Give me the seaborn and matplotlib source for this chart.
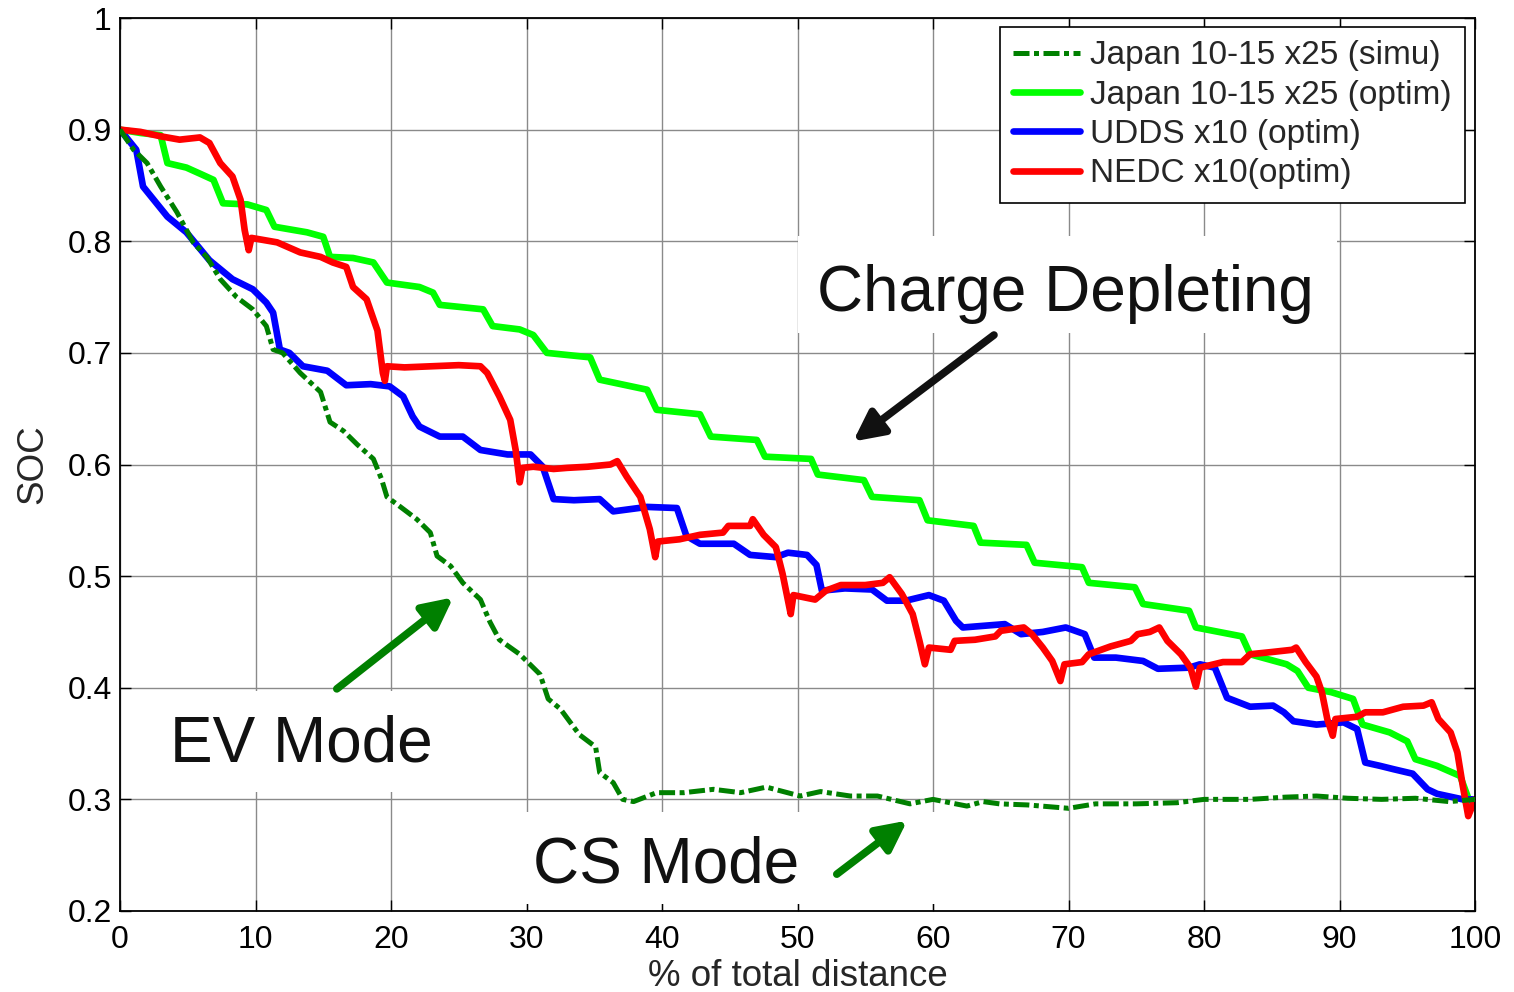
import matplotlib
matplotlib.use("Agg")
import matplotlib.pyplot as plt
from matplotlib.patches import Rectangle
import seaborn as sns
import pandas as pd

# ---- SOC trajectories versus % of total distance ----
simu_x = [0, 1.0, 2.0, 3.0, 4.2, 5.4, 6.4, 7.4, 8.6, 9.8, 10.8, 11.3, 12.0, 13.3, 14.8, 15.5,
          16.5, 17.5, 18.7, 19.3, 19.7, 20.7, 21.9, 22.9, 23.4, 24.4, 25.3, 26.6, 27.3, 28.0,
          29.5, 31.0, 31.6, 32.5, 33.9, 35.1, 35.4, 36.4, 37.1, 37.9, 39.6, 41.6, 43.8, 45.8,
          47.7, 50.2, 51.7, 53.9, 55.9, 58.3, 60.0, 62.5, 63.7, 64.9, 67.0, 70.0, 72.0, 75.0,
          78.0, 80.0, 83.4, 86.0, 88.3, 90.6, 93.1, 95.6, 98.1, 100]
simu_soc = [0.900, 0.882, 0.870, 0.849, 0.826, 0.799, 0.786, 0.766, 0.750, 0.739, 0.724, 0.703,
            0.700, 0.682, 0.665, 0.638, 0.630, 0.618, 0.605, 0.587, 0.571, 0.562, 0.551, 0.539,
            0.518, 0.509, 0.494, 0.479, 0.459, 0.443, 0.430, 0.412, 0.390, 0.381, 0.358, 0.347,
            0.324, 0.315, 0.300, 0.298, 0.306, 0.306, 0.309, 0.306, 0.311, 0.303, 0.307, 0.303,
            0.303, 0.296, 0.300, 0.294, 0.298, 0.296, 0.295, 0.292, 0.296, 0.296, 0.297, 0.300,
            0.300, 0.302, 0.303, 0.301, 0.300, 0.301, 0.298, 0.300]

japan_x = [0, 1.5, 3.0, 3.5, 4.9, 6.0, 6.9, 7.6, 9.4, 10.8, 11.4, 13.8, 15.0, 15.5, 17.2, 18.7,
           19.7, 22.1, 23.1, 23.6, 26.8, 27.5, 29.5, 30.5, 31.5, 34.7, 35.4, 38.9, 39.6, 42.8,
           43.6, 47.0, 47.6, 51.0, 51.5, 54.9, 55.5, 59.0, 59.6, 63.0, 63.5, 66.9, 67.5, 71.0,
           71.5, 74.9, 75.5, 78.9, 79.4, 82.8, 83.4, 86.1, 86.9, 87.7, 89.4, 91.0, 91.7, 93.7,
           95.0, 95.6, 97.2, 98.9, 99.6, 100]
japan_soc = [0.900, 0.897, 0.895, 0.870, 0.866, 0.860, 0.855, 0.834, 0.833, 0.828, 0.813, 0.808,
             0.804, 0.786, 0.785, 0.781, 0.763, 0.759, 0.754, 0.743, 0.739, 0.724, 0.721, 0.716,
             0.700, 0.696, 0.676, 0.667, 0.649, 0.645, 0.625, 0.622, 0.607, 0.605, 0.591, 0.586,
             0.571, 0.568, 0.550, 0.545, 0.530, 0.528, 0.512, 0.508, 0.494, 0.490, 0.475, 0.469,
             0.454, 0.446, 0.430, 0.421, 0.415, 0.400, 0.396, 0.390, 0.367, 0.360, 0.352, 0.336,
             0.330, 0.321, 0.298, 0.300]

udds_x = [0, 1.2, 1.7, 2.5, 3.5, 4.9, 6.6, 8.3, 9.8, 10.8, 11.3, 11.8, 12.5, 13.5, 15.3, 16.7,
          18.5, 19.9, 20.9, 21.6, 22.1, 23.6, 25.3, 26.6, 28.6, 30.3, 31.2, 32.0, 33.5, 35.4,
          36.4, 38.9, 41.1, 41.8, 42.8, 45.3, 46.5, 48.4, 49.3, 50.7, 51.4, 51.8, 53.5, 55.5,
          56.6, 58.0, 59.7, 60.8, 61.7, 62.2, 65.3, 66.5, 68.1, 69.8, 71.2, 71.9, 73.5, 75.5,
          76.6, 78.9, 79.7, 80.8, 81.7, 83.4, 85.1, 85.9, 86.6, 88.3, 90.3, 91.3, 91.9, 93.0,
          94.0, 95.4, 96.5, 97.2, 99.1, 100]
udds_soc = [0.900, 0.882, 0.849, 0.837, 0.822, 0.808, 0.783, 0.766, 0.757, 0.745, 0.736, 0.703,
            0.700, 0.688, 0.684, 0.671, 0.672, 0.670, 0.661, 0.643, 0.634, 0.625, 0.625, 0.613,
            0.609, 0.609, 0.598, 0.569, 0.568, 0.569, 0.558, 0.562, 0.561, 0.536, 0.529, 0.529,
            0.519, 0.517, 0.521, 0.519, 0.510, 0.487, 0.489, 0.488, 0.478, 0.478, 0.483, 0.478,
            0.460, 0.454, 0.457, 0.448, 0.450, 0.454, 0.448, 0.427, 0.427, 0.424, 0.417, 0.418,
            0.421, 0.418, 0.391, 0.383, 0.384, 0.378, 0.370, 0.367, 0.369, 0.363, 0.333, 0.330,
            0.327, 0.323, 0.309, 0.305, 0.300, 0.300]

nedc_x = [0, 1.5, 3.0, 4.4, 5.9, 6.6, 7.4, 8.3, 8.9, 9.2, 9.5, 9.7, 11.6, 13.3, 14.8, 15.7,
          16.7, 17.2, 18.2, 19.0, 19.4, 19.55, 19.7, 21.0, 23.0, 25.0, 26.6, 27.1, 28.0, 28.8,
          29.2, 29.5, 29.7, 30.5, 32.0, 33.0, 34.5, 36.2, 36.7, 37.4, 38.4, 39.1, 39.5, 39.7,
          41.3, 42.8, 44.5, 44.9, 46.5, 46.7, 47.5, 48.4, 48.9, 49.3, 49.5, 49.7, 51.3, 52.1,
          53.2, 55.0, 56.3, 56.8, 57.7, 58.5, 59.0, 59.4, 59.7, 61.3, 61.6, 63.1, 64.6, 65.0,
          66.7, 67.3, 68.1, 68.8, 69.4, 69.7, 71.0, 71.5, 73.1, 74.6, 75.1, 76.0, 76.7, 77.3,
          78.3, 79.0, 79.4, 79.7, 81.4, 82.8, 83.4, 85.0, 86.5, 86.8, 87.5, 88.3, 88.7, 89.1,
          89.5, 89.7, 91.3, 91.9, 93.2, 94.7, 96.2, 96.8, 97.3, 98.2, 98.7, 99.1, 99.5, 100]
nedc_soc = [0.900, 0.898, 0.894, 0.891, 0.893, 0.888, 0.870, 0.858, 0.837, 0.810, 0.792, 0.803,
            0.799, 0.790, 0.786, 0.781, 0.777, 0.759, 0.748, 0.720, 0.682, 0.675, 0.688, 0.687,
            0.688, 0.689, 0.688, 0.682, 0.661, 0.640, 0.613, 0.584, 0.597, 0.598, 0.596, 0.597,
            0.598, 0.600, 0.603, 0.589, 0.571, 0.542, 0.517, 0.531, 0.533, 0.537, 0.539, 0.545,
            0.545, 0.551, 0.537, 0.526, 0.502, 0.478, 0.466, 0.483, 0.479, 0.487, 0.492, 0.492,
            0.494, 0.499, 0.484, 0.466, 0.442, 0.421, 0.436, 0.434, 0.442, 0.443, 0.446, 0.451,
            0.454, 0.448, 0.436, 0.424, 0.406, 0.421, 0.423, 0.430, 0.437, 0.442, 0.448, 0.450,
            0.454, 0.442, 0.430, 0.418, 0.401, 0.418, 0.423, 0.423, 0.430, 0.432, 0.434, 0.436,
            0.423, 0.410, 0.396, 0.372, 0.357, 0.372, 0.374, 0.378, 0.378, 0.383, 0.384, 0.387,
            0.372, 0.360, 0.342, 0.312, 0.285, 0.300]

series_labels = ["Japan 10-15 x25 (simu)", "Japan 10-15 x25 (optim)",
                 "UDDS x10 (optim)", "NEDC x10(optim)"]
x_ticks = [0, 10, 20, 30, 40, 50, 60, 70, 80, 90, 100]
y_ticks = [0.2, 0.3, 0.4, 0.5, 0.6, 0.7, 0.8, 0.9, 1.0]
y_ticklabels = ["0.2", "0.3", "0.4", "0.5", "0.6", "0.7", "0.8", "0.9", "1"]

sns.set_style("ticks")
plt.rcParams["font.family"] = ["Liberation Sans", "DejaVu Sans"]

fig = plt.figure(figsize=(15.14, 9.92), dpi=100)
ax = fig.add_axes([120 / 1514, 81 / 992, 1355 / 1514, 893 / 992])

frames = [
    pd.DataFrame({"dist": simu_x, "soc": simu_soc}),
    pd.DataFrame({"dist": japan_x, "soc": japan_soc}),
    pd.DataFrame({"dist": udds_x, "soc": udds_soc}),
    pd.DataFrame({"dist": nedc_x, "soc": nedc_soc}),
]
styles = [
    dict(color="#008000", lw=3.6, linestyle=(0, (3.2, 0.9, 1.0, 0.9)), zorder=2.6),
    dict(color="#00FF00", lw=4.8, linestyle="-", zorder=2.1),
    dict(color="#0000FF", lw=4.8, linestyle="-", zorder=2.2),
    dict(color="#FF0000", lw=4.8, linestyle="-", zorder=2.3),
]
for df, lab, st in zip(frames, series_labels, styles):
    sns.lineplot(data=df, x="dist", y="soc", ax=ax, label=lab, sort=False,
                 estimator=None, solid_joinstyle="round", solid_capstyle="round", **st)

ax.set_xlim(0, 100)
ax.set_ylim(0.2, 1.0)
ax.set_xticks(x_ticks)
ax.set_xticklabels([str(t) for t in x_ticks])
ax.set_yticks(y_ticks)
ax.set_yticklabels(y_ticklabels)
ax.set_axisbelow(True)
ax.grid(True, color="#8a8a8a", lw=1.0)
ax.tick_params(direction="in", length=8, width=1.0, top=True, right=True,
               labelsize=23, colors="black")
ax.tick_params(axis="x", pad=10)
ax.tick_params(axis="y", pad=6)
for sp in ax.spines.values():
    sp.set_visible(True)
    sp.set_color("black")
    sp.set_linewidth(1.3)

ax.set_xlabel("% of total distance", fontsize=26.5, labelpad=3)
ax.set_ylabel("SOC", fontsize=26.5, labelpad=12)

# white backing boxes behind the annotations (cover the grid only)
for (x0, x1, y0, y1) in [(50.0, 89.8, 0.718, 0.805),
                         (1.5, 24.8, 0.307, 0.397),
                         (27.5, 62.0, 0.206, 0.289)]:
    ax.add_patch(Rectangle((x0, y0), x1 - x0, y1 - y0, facecolor="white",
                           edgecolor="none", zorder=1))

ax.text(69.8, 0.753, "Charge Depleting", fontsize=46, ha="center", va="center",
        color="#111111", zorder=3)
ax.text(13.4, 0.3495, "EV Mode", fontsize=46, ha="center", va="center",
        color="#111111", zorder=3)
ax.text(40.3, 0.241, "CS Mode", fontsize=46, ha="center", va="center",
        color="#111111", zorder=3)

arrow_style = "-|>,head_length=1.0,head_width=0.5"
for tail, tip, col in [((64.5, 0.716), (54.1, 0.6206), "#111111"),
                       ((16.0, 0.399), (24.6, 0.481), "#008000"),
                       ((52.9, 0.233), (58.1, 0.281), "#008000")]:
    ax.annotate("", xy=tip, xytext=tail,
                arrowprops=dict(arrowstyle=arrow_style, color=col, lw=5.5,
                                mutation_scale=18, shrinkA=0, shrinkB=0),
                zorder=3)

leg = ax.legend(loc="upper right", bbox_to_anchor=(0.9926, 0.990), fontsize=24,
                frameon=True, fancybox=False, framealpha=1, edgecolor="black",
                handlelength=2.0, handletextpad=0.3, labelspacing=0.25,
                borderpad=0.4, borderaxespad=0.0)
leg.get_frame().set_linewidth(1.2)

fig.savefig("out.png", dpi=100)
